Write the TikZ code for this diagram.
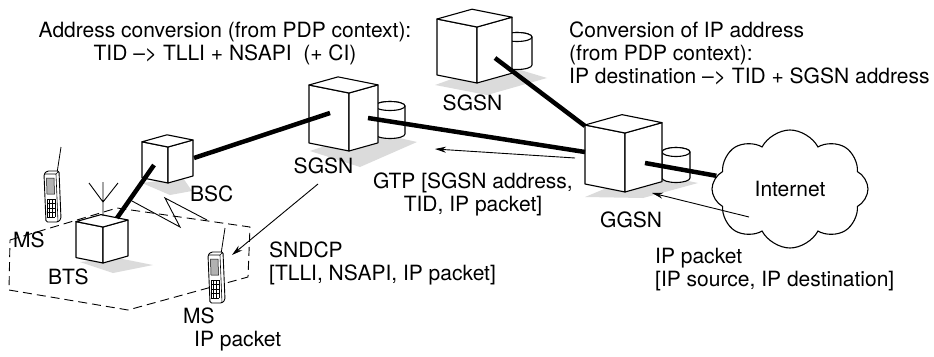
\documentclass[tikz,border=0pt]{standalone}
\usepackage{fontspec}
\setmainfont{TeX Gyre Heros}
\usetikzlibrary{shapes.symbols,arrows.meta}

\newcommand{\lbfont}{\fontsize{21}{23}\selectfont}

% box with front bottom corner at (0,0): height, left width, right width
\newcommand{\netbox}[3]{%
  \filldraw[box] (0,0) -- (0,-#1) -- (-#2,{-0.2*#2-#1}) -- (-#2,{-0.2*#2}) -- cycle;
  \filldraw[box] (0,0) -- (0,-#1) -- (#3,{-0.28*#3-#1}) -- (#3,{-0.28*#3}) -- cycle;
  \filldraw[box] (0,-#1) -- (-#2,{-0.2*#2-#1}) -- ({#3-#2},{-0.2*#2-0.28*#3-#1}) -- (#3,{-0.28*#3-#1}) -- cycle;
}
% disk store: centre x, top y, bottom y, radius
\newcommand{\dbdisk}[4]{%
  \filldraw[box] ({#1-#4},#2) -- ({#1-#4},#3)
    arc[start angle=180,end angle=360,x radius=#4pt,y radius=4.5pt]
    -- ({#1+#4},#2) arc[start angle=0,end angle=180,x radius=#4pt,y radius=4.5pt] -- cycle;
  \draw[box] (#1,#2) ellipse[x radius=#4pt,y radius=4.5pt];
}
% mobile station, top left corner of the front at (0,0)
\newcommand{\handset}{%
  \draw[line width=0.8pt] (13,-1) -- (17,-27);
  \filldraw[fill=white,line width=0.9pt,rounded corners=1.5pt]
    (0,0) -- (3,-3) -- (15,-3) -- (17,45) -- (14,48) -- (2,48) -- cycle;
  \draw[line width=0.6pt] (0,0) -- (12,0) -- (15,-3) (12,0) -- (14,48);
  \filldraw[fill=black!30,line width=0.5pt] (2.5,4) -- (10,4) -- (10.5,20) -- (3,20) -- cycle;
  \foreach \k in {0,...,4} \draw[line width=0.4pt] (3,{25+4.5*\k}) -- (11,{25+4.5*\k});
  \foreach \k in {0,...,3} \draw[line width=0.4pt] ({3+2.6*\k},25) -- ({3+2.6*\k},43);
}

\begin{document}
\begin{tikzpicture}[x=1pt,y=-1pt,
  box/.style={fill=white,draw=black,line width=1.1pt,line join=round},
  floor/.style={fill=black!14},
  link/.style={line width=4.5pt},
  msg/.style={line width=0.9pt,-{Stealth[length=11pt,width=6pt]}},
  cell/.style={line width=0.9pt,dash pattern=on 9pt off 5pt},
  lbl/.style={inner sep=0pt,font=\lbfont}]
\useasboundingbox (0,0) rectangle (934,356);

% radio cell and air link
\draw[cell] (10,240) -- (117,208) -- (250,227) -- (248,277) -- (128,310) -- (9,290) -- cycle;
\draw[line width=0.9pt] (132,201) -- (180,227) -- (165,198) -- (207,220);

% BTS
\begin{scope}[shift={(103,263)}]
  \fill[floor] (-23,-1) -- (10,10) -- (50,2) -- (15,-5) -- cycle;
  \netbox{36}{27}{25}
  \draw[line width=0.9pt] (0,-47) -- (0,-81) (-14,-80) -- (0,-61) -- (15,-80);
  \coordinate (bts-top) at (14,-45);
\end{scope}

% BSC
\begin{scope}[shift={(168,183)}]
  \fill[floor] (-26,0) -- (2,12) -- (24,8) -- (15,-5) -- cycle;
  \netbox{36}{26}{25}
  \coordinate (bsc-in) at (-14,-18);
  \coordinate (bsc-out) at (26,-25);
\end{scope}

% SGSN
\begin{scope}[shift={(349,151)}]
  \fill[floor] (-39,0) -- (11,16) -- (68,-9) -- (20,-20) -- cycle;
  \dbdisk{41}{-45}{-17}{15}
  \netbox{58}{40}{29}
  \coordinate (sgsn-in) at (-19,-38);
  \coordinate (sgsn-out) at (19,-33);
\end{scope}

% second SGSN
\begin{scope}[shift={(477,83)}]
  \fill[floor] (-42,2) -- (10,12) -- (70,-5) -- (20,-20) -- cycle;
  \dbdisk{40}{-46}{-18}{15}
  \netbox{56}{40}{35}
  \coordinate (sgsn2-out) at (18,-25);
\end{scope}

% GGSN
\begin{scope}[shift={(625,192)}]
  \fill[floor] (-40,5) -- (18,6) -- (73,-9) -- (20,-20) -- cycle;
  \dbdisk{51}{-40}{-14}{14}
  \netbox{59}{40}{37}
  \coordinate (ggsn-top) at (-40,-66);
  \coordinate (ggsn-in) at (-40,-40);
  \coordinate (ggsn-out) at (20,-29);
\end{scope}

\node[cloud,draw,line width=1.1pt,cloud puffs=8,cloud puff arc=125,aspect=1.3,
  minimum width=156pt,minimum height=118pt,inner sep=0pt,font=\lbfont] (inet) at (790,189) {Internet};

% backbone links
\draw[link] (bts-top) -- (bsc-in);
\draw[link] (bsc-out) -- (sgsn-in);
\draw[link] (sgsn-out) -- (ggsn-in);
\draw[link] (sgsn2-out) -- (ggsn-top);
\draw[link] (ggsn-out) -- (inet);

% mobile stations
\begin{scope}[shift={(44,174)}] \handset \end{scope}
\begin{scope}[shift={(208,255)}] \handset \end{scope}

% packet flow
\coordinate (gtp-from) at (575,158);
\coordinate (gtp-to) at (435,149);
\coordinate (ip-from) at (749,217);
\coordinate (ip-to) at (652,193);
\coordinate (sn-from) at (318,184);
\coordinate (sn-to) at (232,255);
\draw[msg] (gtp-from) -- (gtp-to);
\draw[msg] (ip-from) -- (ip-to);
\draw[msg] (sn-from) -- (sn-to);

% labels
\node[lbl,align=center,anchor=north] (addr) at (225,21.5)
  {Address conversion (from PDP context):\\TID –> TLLI + NSAPI\ \ (+ CI)};
\node[lbl,align=left,anchor=north west] (ipconv) at (569,21.5)
  {Conversion of IP address\\(from PDP context):\\IP destination –> TID + SGSN address};
\node[lbl,align=center,anchor=north] (gtp) at (473,173) {GTP [SGSN address,\\TID, IP packet]};
\node[lbl,align=left,anchor=north west] (sndcp) at (269,242) {SNDCP\\{[TLLI, NSAPI, IP packet]}};
\node[lbl,align=left,anchor=north west] (ippkt) at (655,248) {IP packet\\{[IP source, IP destination]}};
\node[lbl,anchor=base] (sgsn2-l) at (472.5,110.5) {SGSN};
\node[lbl,anchor=base] (sgsn-l) at (323.5,173) {SGSN};
\node[lbl,anchor=base west] (bsc-l) at (190,201.5) {BSC};
\node[lbl,anchor=base west] (bts-l) at (48,284) {BTS};
\node[lbl,anchor=base west] (ms1-l) at (13,247) {MS};
\node[lbl,anchor=base west] (ms2-l) at (183,323) {MS};
\node[lbl,anchor=base west] (ms2-p) at (194,346) {IP packet};
\node[lbl,anchor=base west] (ggsn-l) at (600,227) {GGSN};
\end{tikzpicture}
\end{document}
